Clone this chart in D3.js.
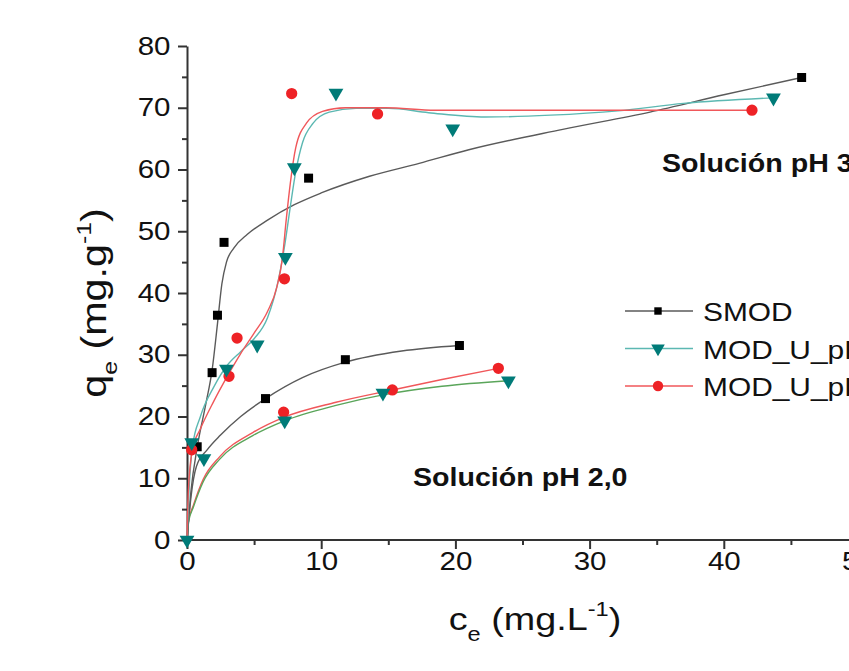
<!DOCTYPE html>
<html>
<head>
<meta charset="utf-8">
<script src="https://cdn.jsdelivr.net/npm/d3@7"></script>
<style>
    body { margin: 0; background: #fff; }
    svg { display: block; }
    .tick text { font-family: "Liberation Sans", Arial, sans-serif; font-size: 25px; fill: #111; }
    .domain, .tick line { stroke: #333; stroke-width: 2; }
    .fit { fill: none; stroke-width: 1.4; }
    .lbl { font-family: "Liberation Sans", Arial, sans-serif; fill: #111; }
</style>
</head>
<body>
<script>
// Define SVG dimensions
var width = 849,
    height = 671;

// Measured points (ce, qe) - pH 3 series
var ph3Smod = [[0.76, 15.1], [1.87, 27.1], [2.27, 36.4], [2.76, 48.2], [9.06, 58.6], [45.8, 74.9]];
var ph3ModA = [[0.35, 15.8], [2.94, 27.7], [5.23, 31.6], [7.33, 45.8], [8.0, 60.3], [11.1, 72.4], [19.8, 66.6], [43.7, 71.6]];
var ph3ModB = [[0.35, 14.6], [3.13, 26.5], [3.73, 32.7], [7.26, 42.3], [7.8, 72.3], [14.2, 69.0], [42.1, 69.6]];

// Measured points - pH 2,0 series
var ph2Smod = [[5.85, 22.9], [11.8, 29.2], [20.3, 31.5]];
var ph2ModA = [[0, 0], [1.26, 13.2], [7.28, 19.3], [14.6, 23.8], [23.95, 25.8]];
var ph2ModB = [[7.2, 20.7], [15.3, 24.3], [23.2, 27.8]];

// Fitted curves
var fitPh3Smod = [[0, 0], [0.3, 8], [0.76, 15], [1.4, 22], [1.87, 27.5], [2.27, 35], [2.6, 41.5], [2.94, 45], [3.5, 47.3],
    [4.5, 49.5], [6, 51.8], [8, 54.3], [10, 56.2], [13.6, 58.9], [17.3, 61], [21, 63.2], [28, 66.5], [34.5, 69.3], [40, 72.1], [45.8, 74.9]];
var fitPh3ModA = [[0, 0], [0.15, 8], [0.4, 15], [1, 20], [2, 24.8], [3, 28.3], [4, 30.5], [5, 32.6], [6, 36], [6.8, 42], [7.3, 48],
    [7.7, 54], [8.1, 59.6], [8.6, 64.3], [9.4, 67.5], [10.6, 69.3], [12.6, 69.9], [15, 69.9], [18, 69.2], [22.2, 68.5], [27.1, 68.8],
    [32.1, 69.5], [37, 70.7], [43.7, 71.6]];
var fitPh3ModB = [[0, 0], [0.1, 8], [0.4, 14.6], [1, 18], [2, 22.5], [3, 26.5], [4, 30.2], [5, 33.5], [6, 37], [6.7, 41], [7.1, 45.5],
    [7.4, 52], [7.7, 57.8], [8.1, 63.5], [8.9, 67.5], [10.1, 69.4], [11.8, 70], [14.8, 70], [18.5, 69.6], [25, 69.6], [35, 69.6], [42.1, 69.6]];
var fitPh2Smod = [[0, 0], [0.3, 7], [0.7, 11.9], [1.5, 14.6], [2.5, 17], [4, 20], [5.85, 22.9], [8.6, 26.3], [11.8, 28.8], [16, 30.6], [20.3, 31.5]];
var fitPh2ModA = [[0, 0], [0.1, 2.8], [0.47, 5.3], [1.2, 9.4], [2.44, 13.1], [4.9, 16.9], [7.26, 19.3], [11.1, 21.8], [14.6, 23.5], [19, 24.9], [23.95, 25.8]];
var fitPh2ModB = [[0, 0], [0.1, 3], [0.47, 5.6], [1.2, 9.8], [2.44, 13.5], [4.9, 17.4], [7.26, 19.9], [11.1, 22.3], [15.3, 24.3], [19, 26], [23.2, 27.8]];

// Legend entries and tick values
var legendNames = ["SMOD", "MOD_U_pH3", "MOD_U_pH9"];
var xTicks = [0, 10, 20, 30, 40, 50];
var yTicks = [0, 10, 20, 30, 40, 50, 60, 70, 80];

// colours
var colSmod = "#000000", colModA = "#007b78", colModB = "#ee2226";
var fitSmod = "#5a5a5a", fitModA = "#5cb8b2", fitModB = "#f0575a", fitGreen = "#5aa55a";

var x = d3.scaleLinear().domain([0, 50]).range([187, 858]);
var y = d3.scaleLinear().domain([0, 80]).range([540, 46]);

var svg = d3.select("body")
    .append("svg")
    .attr("width", width)
    .attr("height", height);

var line = d3.line()
    .x(function (d) { return x(d[0]); })
    .y(function (d) { return y(d[1]); })
    .curve(d3.curveMonotoneX);

// Axes
var xAxis = svg.append("g")
    .attr("transform", "translate(0," + y(0) + ")")
    .call(d3.axisBottom(x).tickValues(xTicks).tickSize(9).tickPadding(3).tickSizeOuter(0));
xAxis.select(".domain").attr("d", "M187,0H900");
xAxis.selectAll(".tick text").attr("transform", "scale(1.18,1)");
svg.append("g")
    .attr("transform", "translate(0," + y(0) + ")")
    .call(d3.axisBottom(x).tickValues([5, 15, 25, 35, 45]).tickSize(5).tickFormat(""))
    .select(".domain").remove();

var yAxis = svg.append("g")
    .attr("transform", "translate(" + x(0) + ",0)")
    .call(d3.axisLeft(y).tickValues(yTicks).tickSize(9).tickPadding(5).tickSizeOuter(0));
yAxis.selectAll(".tick text").attr("transform", "scale(1.18,1)");
svg.append("g")
    .attr("transform", "translate(" + x(0) + ",0)")
    .call(d3.axisLeft(y).tickValues([5, 15, 25, 35, 45, 55, 65, 75]).tickSize(5).tickFormat(""))
    .select(".domain").remove();

// Fitted curves
function addFit(data, colour) {
    svg.append("path")
        .datum(data)
        .attr("class", "fit")
        .attr("stroke", colour)
        .attr("d", line);
}
addFit(fitPh2Smod, fitSmod);
addFit(fitPh2ModB, fitModB);
addFit(fitPh2ModA, fitGreen);
addFit(fitPh3Smod, fitSmod);
addFit(fitPh3ModA, fitModA);
addFit(fitPh3ModB, fitModB);

// Markers
var sqSym = d3.symbol().type(d3.symbolSquare).size(81);
var ciSym = d3.symbol().type(d3.symbolCircle).size(100);
var triSym = d3.symbol().type(d3.symbolTriangle).size(95);

function addMarkers(data, sym, colour, flip) {
    svg.append("g").selectAll("path")
        .data(data)
        .enter()
        .append("path")
        .attr("d", sym)
        .attr("fill", colour)
        .attr("transform", function (d) {
            return "translate(" + x(d[0]) + "," + y(d[1]) + ")" + (flip ? " rotate(180)" : "");
        });
}
addMarkers(ph2Smod, sqSym, colSmod);
addMarkers(ph2ModB, ciSym, colModB);
addMarkers(ph2ModA, triSym, colModA, true);
addMarkers(ph3Smod, sqSym, colSmod);
addMarkers(ph3ModB, ciSym, colModB);
addMarkers(ph3ModA, triSym, colModA, true);

// Annotations
svg.append("text")
    .attr("class", "lbl")
    .attr("x", 413).attr("y", 486)
    .style("font-size", "26px").style("font-weight", "bold")
    .attr("transform", "translate(413,486) scale(1.1,1) translate(-413,-486)")
    .text("Solución pH 2,0");
svg.append("text")
    .attr("class", "lbl")
    .attr("x", 662).attr("y", 172)
    .style("font-size", "26px").style("font-weight", "bold")
    .attr("transform", "translate(662,172) scale(1.1,1) translate(-662,-172)")
    .text("Solución pH 3,0");

// Legend
var legendCols = [[fitSmod, colSmod, false], [fitModA, colModA, true], [fitModB, colModB, false]];
var legendSyms = [d3.symbol().type(d3.symbolSquare).size(55), d3.symbol().type(d3.symbolTriangle).size(80), d3.symbol().type(d3.symbolCircle).size(85)];
legendNames.forEach(function (name, i) {
    var ly = 311 + i * 37.5;
    var g = svg.append("g");
    g.append("line")
        .attr("x1", 625).attr("x2", 693)
        .attr("y1", ly).attr("y2", ly)
        .attr("stroke", legendCols[i][0])
        .attr("stroke-width", 1.4);
    g.append("path")
        .attr("d", legendSyms[i])
        .attr("fill", legendCols[i][1])
        .attr("transform", "translate(658," + ly + ")" + (legendCols[i][2] ? " rotate(180)" : ""));
    g.append("text")
        .attr("class", "lbl")
        .attr("transform", "translate(703," + (ly + 10) + ") scale(1.15,1)")
        .style("font-size", "26px")
        .text(name);
});

// Axis titles
var xt = svg.append("text")
    .attr("class", "lbl")
    .attr("text-anchor", "middle")
    .attr("transform", "translate(535,630) scale(1.18,1)")
    .style("font-size", "32px");
xt.append("tspan").text("c");
xt.append("tspan").attr("dy", 11).style("font-size", "20px").text("e");
xt.append("tspan").attr("dy", -11).text(" (mg.L");
xt.append("tspan").attr("dy", -14).style("font-size", "20px").text("-1");
xt.append("tspan").attr("dy", 14).text(")");

var yt = svg.append("text")
    .attr("class", "lbl")
    .attr("text-anchor", "middle")
    .attr("transform", "translate(106,303) rotate(-90) scale(1.18,1)")
    .style("font-size", "35px");
yt.append("tspan").text("q");
yt.append("tspan").attr("dy", 11).style("font-size", "21px").text("e");
yt.append("tspan").attr("dy", -11).text(" (mg.g");
yt.append("tspan").attr("dy", -15).style("font-size", "21px").text("-1");
yt.append("tspan").attr("dy", 15).text(")");
</script>
</body>
</html>
